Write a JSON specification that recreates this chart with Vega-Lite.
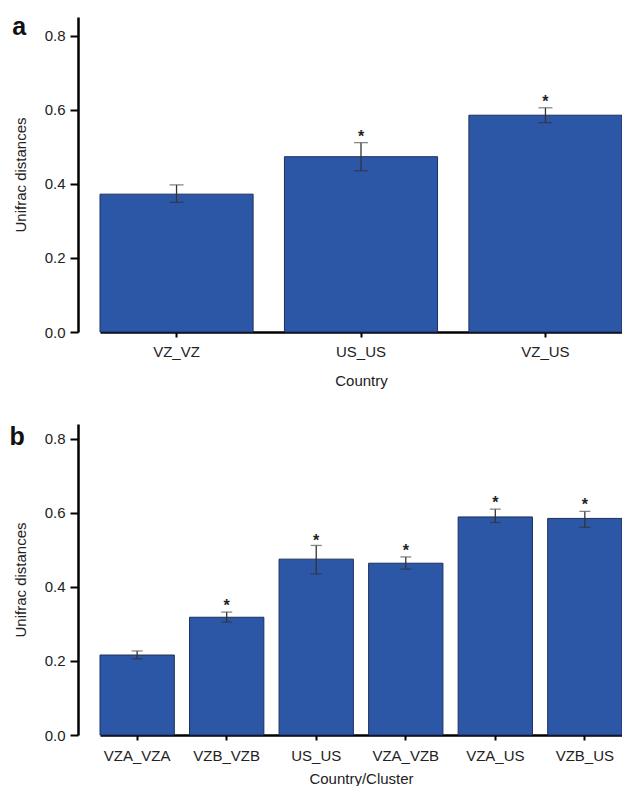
{
  "$schema": "https://vega.github.io/schema/vega-lite/v6.json",
  "padding": {"left": 9, "top": 15, "right": 0, "bottom": 0},
  "background": "white",
  "spacing": 36,
  "config": {
    "view": {"stroke": null},
    "font": "Liberation Sans",
    "axis": {
      "grid": false,
      "domainColor": "#000",
      "domainWidth": 2.5,
      "tickColor": "#000",
      "tickWidth": 2,
      "tickSize": 5,
      "labelFont": "Liberation Sans",
      "labelFontSize": 15,
      "labelColor": "#222",
      "titleFont": "Liberation Sans",
      "titleFontSize": 15,
      "titleFontWeight": "normal",
      "titleColor": "#222"
    }
  },
  "datasets": {
    "a": [
      {"group": "VZ_VZ", "mean": 0.372, "lo": 0.35, "hi": 0.397, "star": null},
      {"group": "US_US", "mean": 0.473, "lo": 0.435, "hi": 0.511, "star": 0.538},
      {"group": "VZ_US", "mean": 0.585, "lo": 0.565, "hi": 0.605, "star": 0.632}
    ],
    "b": [
      {"group": "VZA_VZA", "mean": 0.216, "lo": 0.206, "hi": 0.227, "star": null},
      {"group": "VZB_VZB", "mean": 0.318, "lo": 0.305, "hi": 0.332, "star": 0.359},
      {"group": "US_US", "mean": 0.475, "lo": 0.435, "hi": 0.512, "star": 0.534},
      {"group": "VZA_VZB", "mean": 0.464, "lo": 0.448, "hi": 0.481, "star": 0.507},
      {"group": "VZA_US", "mean": 0.589, "lo": 0.574, "hi": 0.61, "star": 0.637},
      {"group": "VZB_US", "mean": 0.585, "lo": 0.561, "hi": 0.604, "star": 0.632}
    ]
  },
  "vconcat": [
    {
      "width": 522,
      "height": 315,
      "data": {"name": "a"},
      "title": {"text": "a", "orient": "left", "anchor": "end", "angle": 0, "align": "right", "baseline": "top", "fontSize": 25, "fontWeight": "bold", "font": "Liberation Sans", "color": "#111", "offset": -27, "dy": -2},
      "encoding": {
        "x": {"field": "group", "type": "nominal", "sort": null, "title": "Country",
          "scale": {"paddingInner": 0.17, "paddingOuter": 0},
          "axis": {"labelAngle": 0, "labelPadding": 7, "titlePadding": 14}}
      },
      "layer": [
        {"mark": {"type": "bar", "color": "#2c57a6", "stroke": "#1d2f5c", "strokeWidth": 1},
          "encoding": {"y": {"field": "mean", "type": "quantitative", "title": "Unifrac distances",
            "scale": {"domain": [0, 0.85], "nice": false},
            "axis": {"values": [0, 0.2, 0.4, 0.6, 0.8], "format": ".1f", "offset": 22, "tickSize": 8, "titlePadding": 16, "labelPadding": 5}}}},
        {"mark": {"type": "rule", "color": "#333", "strokeWidth": 1.3},
          "encoding": {"y": {"field": "lo", "type": "quantitative"}, "y2": {"field": "hi"}}},
        {"mark": {"type": "tick", "color": "#333", "thickness": 1.3, "size": 14},
          "encoding": {"y": {"field": "lo", "type": "quantitative"}}},
        {"mark": {"type": "tick", "color": "#555", "thickness": 1.3, "size": 14},
          "encoding": {"y": {"field": "hi", "type": "quantitative"}}},
        {"transform": [{"filter": "datum.star != null"}],
          "mark": {"type": "text", "text": "*", "fontSize": 16, "fontWeight": "bold", "color": "#222", "baseline": "alphabetic", "dy": 9},
          "encoding": {"y": {"field": "star", "type": "quantitative"}}}
      ]
    },
    {
      "width": 522,
      "height": 311,
      "data": {"name": "b"},
      "title": {"text": "b", "orient": "left", "anchor": "end", "angle": 0, "align": "right", "baseline": "top", "fontSize": 25, "fontWeight": "bold", "font": "Liberation Sans", "color": "#111", "offset": -27, "dy": 1},
      "encoding": {
        "x": {"field": "group", "type": "nominal", "sort": null, "title": "Country/Cluster",
          "scale": {"paddingInner": 0.17, "paddingOuter": 0},
          "axis": {"labelAngle": 0, "labelPadding": 8, "titlePadding": 8}}
      },
      "layer": [
        {"mark": {"type": "bar", "color": "#2c57a6", "stroke": "#1d2f5c", "strokeWidth": 1},
          "encoding": {"y": {"field": "mean", "type": "quantitative", "title": "Unifrac distances",
            "scale": {"domain": [0, 0.84], "nice": false},
            "axis": {"values": [0, 0.2, 0.4, 0.6, 0.8], "format": ".1f", "offset": 22, "tickSize": 8, "titlePadding": 16, "labelPadding": 5}}}},
        {"mark": {"type": "rule", "color": "#333", "strokeWidth": 1.3},
          "encoding": {"y": {"field": "lo", "type": "quantitative"}, "y2": {"field": "hi"}}},
        {"mark": {"type": "tick", "color": "#333", "thickness": 1.3, "size": 11},
          "encoding": {"y": {"field": "lo", "type": "quantitative"}}},
        {"mark": {"type": "tick", "color": "#555", "thickness": 1.3, "size": 11},
          "encoding": {"y": {"field": "hi", "type": "quantitative"}}},
        {"transform": [{"filter": "datum.star != null"}],
          "mark": {"type": "text", "text": "*", "fontSize": 16, "fontWeight": "bold", "color": "#222", "baseline": "alphabetic", "dy": 9},
          "encoding": {"y": {"field": "star", "type": "quantitative"}}}
      ]
    }
  ]
}
